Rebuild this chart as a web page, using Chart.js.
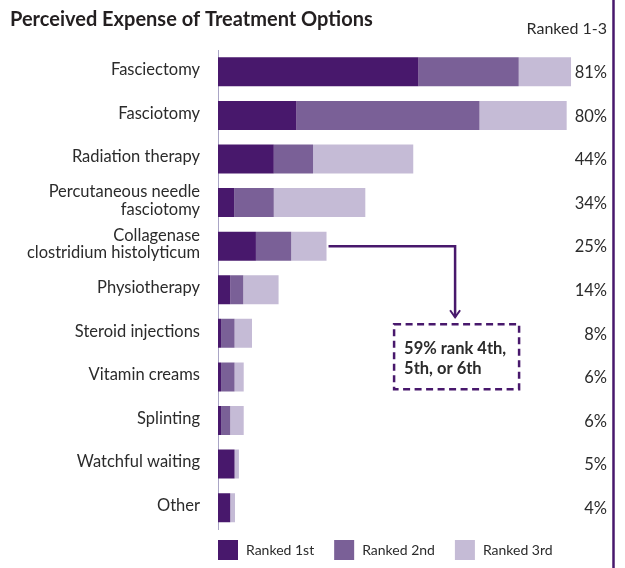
<!DOCTYPE html>
<html><head><meta charset="utf-8">
<script src="https://cdn.jsdelivr.net/npm/chart.js@4"></script>
<style>html,body{margin:0;padding:0;background:#fff}#wrap{width:625px;height:568px;position:relative}</style>
</head><body><div id="wrap"><canvas id="c" width="625" height="568"></canvas></div>
<script>
const categories = ['Fasciectomy','Fasciotomy','Radiation therapy',['Percutaneous needle','fasciotomy'],['Collagenase','clostridium histolyticum'],'Physiotherapy','Steroid injections','Vitamin creams','Splinting','Watchful waiting','Other'];
const ranked1st = [46, 18, 12.8, 3.7, 8.7, 2.8, 0.7, 0.7, 0.7, 3.8, 2.8];
const ranked2nd = [23, 42, 9, 9.1, 8.1, 3, 3.1, 3.1, 2.1, 0, 0];
const ranked3rd = [12, 20, 23, 21, 8.1, 8.1, 4, 2.1, 3.1, 1, 1.1];
const top3Labels = ['81%','80%','44%','34%','25%','14%','8%','6%','6%','5%','4%'];
const seriesNames = ['Ranked 1st','Ranked 2nd','Ranked 3rd'];
const seriesColors = ['#48186c','#7a6097','#c5bbd6'];
const chartTitle = 'Perceived Expense of Treatment Options';
const subTitle = 'Ranked 1-3';
const calloutLines = ['59% rank 4th,','5th, or 6th'];
const calloutIndex = 4;
const calloutX = 54.4;
const calloutTip = 5.63;

const FONT = 'Lato, "Open Sans", sans-serif';
const ink = '#2b2b2b';
const accent = '#48186c';

const overlay = {
  id: 'overlay',
  afterDraw(chart) {
    const ctx = chart.ctx, xs = chart.scales.x, ys = chart.scales.y, ca = chart.chartArea;
    ctx.save();
    ctx.fillStyle = '#231f20';
    ctx.font = '700 20px ' + FONT;
    ctx.textBaseline = 'middle';
    ctx.textAlign = 'left';
    ctx.fillText(chartTitle, 10, 20);
    ctx.font = '400 16px ' + FONT;
    ctx.fillStyle = ink;
    ctx.textAlign = 'right';
    ctx.fillText(subTitle, 607, 29);
    ctx.font = '400 16.5px ' + FONT;
    top3Labels.forEach((t, i) => {
      ctx.fillText(t, 607, ys.getPixelForValue(i) + 1);
    });
    ctx.strokeStyle = accent;
    ctx.lineWidth = 2.5;
    ctx.beginPath(); ctx.moveTo(613.5, 0); ctx.lineTo(613.5, 568); ctx.stroke();
    let lx = ca.left;
    ctx.font = '400 14px ' + FONT;
    ctx.textAlign = 'left';
    chart.data.datasets.forEach((ds) => {
      ctx.fillStyle = ds.backgroundColor;
      ctx.fillRect(lx, 540, 20, 20);
      ctx.fillStyle = ink;
      ctx.fillText(ds.label, lx + 28, 550);
      lx += 28 + ctx.measureText(ds.label).width + 20;
    });
    const tot = ranked1st[calloutIndex] + ranked2nd[calloutIndex] + ranked3rd[calloutIndex];
    const sx = xs.getPixelForValue(tot) + 2;
    const sy = ys.getPixelForValue(calloutIndex);
    const ax = xs.getPixelForValue(calloutX);
    const tip = ys.getPixelForValue(calloutTip);
    ctx.strokeStyle = accent;
    ctx.lineWidth = 2.5;
    ctx.beginPath(); ctx.moveTo(sx, sy); ctx.lineTo(ax, sy); ctx.lineTo(ax, tip); ctx.stroke();
    ctx.lineWidth = 2;
    ctx.beginPath(); ctx.moveTo(ax - 5, tip - 7); ctx.lineTo(ax, tip); ctx.lineTo(ax + 5, tip - 7); ctx.stroke();
    const bw = 125, bh = 65, bl = ax - 61, bt = tip + 7;
    ctx.setLineDash([7, 4.5]);
    ctx.lineWidth = 2.5;
    ctx.strokeRect(bl, bt, bw, bh);
    ctx.setLineDash([]);
    ctx.fillStyle = ink;
    ctx.font = '700 16.5px ' + FONT;
    ctx.fillText(calloutLines[0], bl + 10, bt + 24);
    ctx.fillText(calloutLines[1], bl + 10, bt + 44);
    ctx.restore();
  }
};

new Chart(document.getElementById('c'), {
  type: 'bar',
  data: {
    labels: categories,
    datasets: [
      { label: seriesNames[0], data: ranked1st, backgroundColor: seriesColors[0] },
      { label: seriesNames[1], data: ranked2nd, backgroundColor: seriesColors[1] },
      { label: seriesNames[2], data: ranked3rd, backgroundColor: seriesColors[2] }
    ]
  },
  options: {
    indexAxis: 'y',
    responsive: false,
    animation: false,
    devicePixelRatio: 1,
    datasets: { bar: { categoryPercentage: 1, barPercentage: 0.665, borderWidth: 0 } },
    layout: { padding: { left: 0, right: 13, top: 50, bottom: 38.5 } },
    plugins: { legend: { display: false }, title: { display: false }, tooltip: { enabled: false } },
    scales: {
      x: { stacked: true, display: false, min: 0, max: 90.4 },
      y: {
        stacked: true,
        afterFit(s) { s.width = 218; },
        grid: { display: false, drawTicks: false },
        border: { display: true, color: '#a9a5c5', width: 1 },
        ticks: { color: ink, padding: 18, labelOffset: -2, font: { family: FONT, size: 16.5, lineHeight: 1.05 } }
      }
    }
  },
  plugins: [overlay]
});
</script></body></html>
